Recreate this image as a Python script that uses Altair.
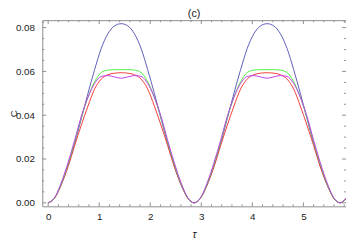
import altair as alt
import pandas as pd

tau = [0, 0.13, 0.26, 0.39, 0.52, 0.65, 0.78, 0.91, 1.04, 1.17, 1.30, 1.43,
       1.56, 1.69, 1.82, 1.95, 2.08, 2.21, 2.34, 2.47, 2.60, 2.73, 2.86,
       2.99, 3.12, 3.25, 3.38, 3.51, 3.64, 3.77, 3.90, 4.03, 4.16, 4.29,
       4.42, 4.55, 4.68, 4.81, 4.94, 5.07, 5.20, 5.33, 5.46, 5.59, 5.72, 5.85]

c_blue = [0, 0.0024, 0.0084, 0.0170, 0.0272, 0.0385, 0.0500, 0.0608, 0.0705, 0.0772, 0.0808, 0.0818,
          0.0808, 0.0772, 0.0705, 0.0608, 0.0500, 0.0385, 0.0272, 0.0170, 0.0084, 0.0024, 0,
          0.0024, 0.0084, 0.0170, 0.0272, 0.0385, 0.0500, 0.0608, 0.0705, 0.0772, 0.0808, 0.0818,
          0.0808, 0.0772, 0.0705, 0.0608, 0.0500, 0.0385, 0.0272, 0.0170, 0.0084, 0.0024, 0,
          0.0024]

c_red = [0, 0.0022, 0.0086, 0.0165, 0.0262, 0.0355, 0.0442, 0.0520, 0.0565, 0.0585, 0.0592, 0.0594,
         0.0592, 0.0585, 0.0565, 0.0520, 0.0442, 0.0355, 0.0262, 0.0165, 0.0086, 0.0022, 0,
         0.0022, 0.0086, 0.0165, 0.0262, 0.0355, 0.0442, 0.0520, 0.0565, 0.0585, 0.0592, 0.0594,
         0.0592, 0.0585, 0.0565, 0.0520, 0.0442, 0.0355, 0.0262, 0.0165, 0.0086, 0.0022, 0,
         0.0022]

c_green = [0, 0.0023, 0.0090, 0.0178, 0.0280, 0.0390, 0.0482, 0.0553, 0.0595, 0.0606, 0.0608, 0.0608,
           0.0608, 0.0606, 0.0595, 0.0553, 0.0482, 0.0390, 0.0280, 0.0178, 0.0090, 0.0023, 0,
           0.0023, 0.0090, 0.0178, 0.0280, 0.0390, 0.0482, 0.0553, 0.0595, 0.0606, 0.0608, 0.0608,
           0.0608, 0.0606, 0.0595, 0.0553, 0.0482, 0.0390, 0.0280, 0.0178, 0.0090, 0.0023, 0,
           0.0023]

c_magenta = [0, 0.0025, 0.0094, 0.0184, 0.0286, 0.0395, 0.0482, 0.0545, 0.0577, 0.0581, 0.0575, 0.0569,
             0.0575, 0.0581, 0.0577, 0.0545, 0.0482, 0.0395, 0.0286, 0.0184, 0.0094, 0.0025, 0,
             0.0025, 0.0094, 0.0184, 0.0286, 0.0395, 0.0482, 0.0545, 0.0577, 0.0581, 0.0575, 0.0569,
             0.0575, 0.0581, 0.0577, 0.0545, 0.0482, 0.0395, 0.0286, 0.0184, 0.0094, 0.0025, 0,
             0.0025]

series_values = [c_blue, c_red, c_green, c_magenta]
series_colors = ["#5c5cb8", "#f23a3a", "#4cf03c", "#c23cf0"]

x_major = [0, 1, 2, 3, 4, 5]
x_minor = [0.2, 0.4, 0.6, 0.8, 1.2, 1.4, 1.6, 1.8, 2.2, 2.4, 2.6, 2.8,
           3.2, 3.4, 3.6, 3.8, 4.2, 4.4, 4.6, 4.8, 5.2, 5.4, 5.6, 5.8]
y_major = [0.0, 0.02, 0.04, 0.06, 0.08]
y_minor = [0.005, 0.01, 0.015, 0.025, 0.03, 0.035, 0.045, 0.05, 0.055,
           0.065, 0.07, 0.075, 0.0825]

W, H = 310, 190
FRAME = "#8c8c8c"
FONT = "Liberation Sans"

xs = alt.Scale(domain=[-0.115, 5.835], nice=False, zero=False)
ys = alt.Scale(domain=[-0.0016, 0.0834], nice=False, zero=False)

x_axis = alt.Axis(
    values=x_major, format="d", title="τ", ticks=False, domain=False, grid=False,
    labelPadding=5, labelFontSize=10, labelFont=FONT, labelColor="#222",
    titleFont=FONT, titleFontSize=11, titleFontWeight="normal", titleFontStyle="italic",
    titleColor="#222", titleY=23, titleBaseline="top")
y_axis = alt.Axis(
    values=y_major, format=".2f", title="C", ticks=False, domain=False, grid=False,
    labelPadding=8, labelFontSize=10, labelFont=FONT, labelColor="#222",
    titleFont=FONT, titleFontSize=10, titleFontWeight="normal", titleColor="#222",
    titleX=-29, titleY=H / 2, titleBaseline="middle")

layers = []
for vals, col in zip(series_values, series_colors):
    d = pd.DataFrame({"tau": tau, "C": vals})
    layers.append(
        alt.Chart(d).mark_line(color=col, strokeWidth=1, interpolate="monotone", clip=True)
        .encode(x=alt.X("tau:Q", scale=xs, axis=x_axis),
                y=alt.Y("C:Q", scale=ys, axis=y_axis))
    )

def xticks(vals, L):
    d = pd.DataFrame({"v": vals})
    bottom = alt.Chart(d).mark_rule(color=FRAME, strokeWidth=1).encode(
        x=alt.X("v:Q", scale=xs, axis=x_axis), y=alt.value(H), y2=alt.value(H - L))
    top = alt.Chart(d).mark_rule(color=FRAME, strokeWidth=1).encode(
        x=alt.X("v:Q", scale=xs, axis=x_axis), y=alt.value(0), y2=alt.value(L))
    return [bottom, top]

def yticks(vals, L):
    d = pd.DataFrame({"v": vals})
    left = alt.Chart(d).mark_rule(color=FRAME, strokeWidth=1).encode(
        y=alt.Y("v:Q", scale=ys, axis=y_axis), x=alt.value(0), x2=alt.value(L))
    right = alt.Chart(d).mark_rule(color=FRAME, strokeWidth=1).encode(
        y=alt.Y("v:Q", scale=ys, axis=y_axis), x=alt.value(W), x2=alt.value(W - L))
    return [left, right]

tick_layers = xticks(x_major, 4) + xticks(x_minor, 2) + yticks(y_major, 4) + yticks(y_minor, 2)

chart = alt.layer(*layers, *tick_layers).properties(
    width=W, height=H,
    title=alt.TitleParams("(c)", font=FONT, fontSize=11, fontWeight="normal", color="#222",
                          anchor="middle", offset=1),
    autosize=alt.AutoSizeParams(type="none"),
    padding={"left": 35, "top": 10, "right": 0, "bottom": 35},
).configure_view(stroke=FRAME, strokeWidth=1)

chart.save("out.html", embed_options={"renderer": "svg", "actions": False})
